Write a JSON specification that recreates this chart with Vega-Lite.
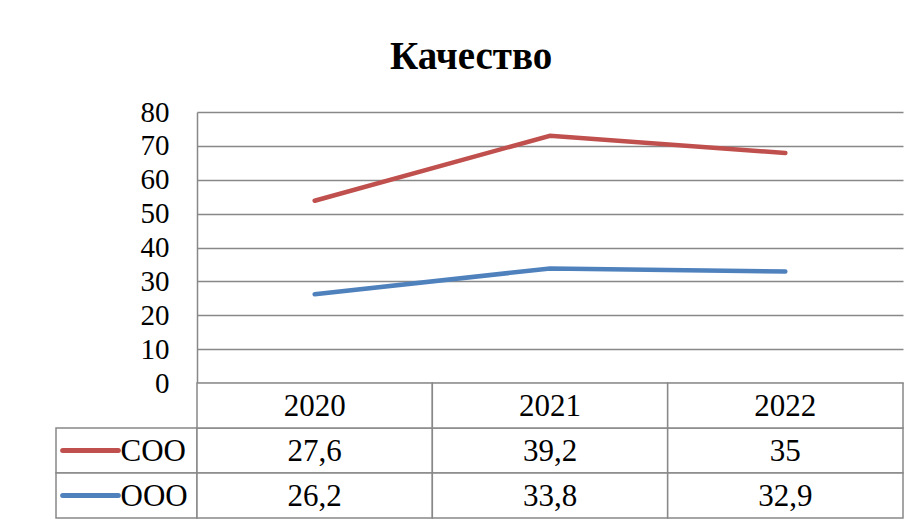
{
  "$schema": "https://vega.github.io/schema/vega-lite/v6.json",
  "padding": {"left": 52, "top": 38, "right": 10, "bottom": 5},
  "background": "white",
  "title": {"text": "Качество", "fontSize": 39, "fontWeight": "bold", "color": "black", "anchor": "middle", "offset": 21, "dx": -7},
  "data": {"values": [
    {"year": "2020", "series": "СОО", "value": 27.6},
    {"year": "2021", "series": "СОО", "value": 39.2},
    {"year": "2022", "series": "СОО", "value": 35},
    {"year": "2020", "series": "ООО", "value": 26.2},
    {"year": "2021", "series": "ООО", "value": 33.8},
    {"year": "2022", "series": "ООО", "value": 32.9}
  ]},
  "columns": 2,
  "spacing": 0,
  "bounds": "flush",
  "align": "each",
  "concat": [
    {
      "width": 141, "height": 271,
      "mark": {"type": "text", "opacity": 0},
      "encoding": {"text": {"value": ""}}
    },
    {
      "width": 706, "height": 271,
      "transform": [
        {"stack": "value", "groupby": ["year"], "sort": [{"field": "series", "order": "ascending"}], "as": ["v0", "v1"]}
      ],
      "mark": {"type": "line", "strokeWidth": 4.5, "strokeCap": "round"},
      "encoding": {
        "x": {"field": "year", "type": "nominal", "scale": {"domain": ["2020", "2021", "2022"], "paddingInner": 0, "paddingOuter": 0}, "axis": null},
        "y": {"field": "v1", "type": "quantitative", "scale": {"domain": [0, 80], "nice": false},
          "axis": {"values": [0, 10, 20, 30, 40, 50, 60, 70, 80], "title": null, "grid": true, "gridColor": "#888888", "gridWidth": 1.5, "domain": true, "domainColor": "#888888", "domainWidth": 1.5, "ticks": false, "labelPadding": 28, "labelFontSize": 29, "labelColor": "black"}},
        "color": {"field": "series", "type": "nominal", "scale": {"domain": ["СОО", "ООО"], "range": ["#C0504D", "#4F81BD"]}, "legend": null}
      }
    },
    {
      "width": 141, "height": 135,
      "transform": [{"filter": "datum.year == '2020'"}],
      "encoding": {
        "y": {"field": "series", "type": "nominal", "scale": {"domain": ["hdr", "СОО", "ООО"], "paddingInner": 0, "paddingOuter": 0}, "axis": null}
      },
      "layer": [
        {"mark": {"type": "rect", "fill": "white", "stroke": "#888888", "strokeWidth": 1.5}},
        {"mark": {"type": "point", "shape": "stroke", "size": 3100, "strokeWidth": 5, "strokeCap": "round", "filled": false, "opacity": 1, "xOffset": -36},
          "encoding": {"color": {"field": "series", "type": "nominal", "scale": {"domain": ["СОО", "ООО"], "range": ["#C0504D", "#4F81BD"]}, "legend": null}}},
        {"mark": {"type": "text", "align": "left", "baseline": "middle", "fontSize": 31, "color": "black", "dx": -6, "dy": 1},
          "encoding": {"text": {"field": "series"}}}
      ]
    },
    {
      "width": 706, "height": 135,
      "encoding": {
        "x": {"field": "year", "type": "nominal", "scale": {"domain": ["2020", "2021", "2022"], "paddingInner": 0, "paddingOuter": 0}, "axis": null}
      },
      "layer": [
        {"mark": {"type": "rect", "fill": "white", "stroke": "#888888", "strokeWidth": 1.5},
          "encoding": {"y": {"field": "series", "type": "nominal", "scale": {"domain": ["hdr", "СОО", "ООО"], "paddingInner": 0, "paddingOuter": 0}, "axis": null}}},
        {"transform": [{"filter": "datum.series == 'СОО'"}],
          "mark": {"type": "rect", "fill": "white", "stroke": "#888888", "strokeWidth": 1.5},
          "encoding": {"y": {"datum": "hdr", "type": "nominal"}}},
        {"mark": {"type": "text", "baseline": "middle", "fontSize": 31, "color": "black", "dy": 1},
          "encoding": {"y": {"field": "series", "type": "nominal"}, "text": {"field": "value", "type": "quantitative", "format": "~g"}}},
        {"transform": [{"filter": "datum.series == 'СОО'"}],
          "mark": {"type": "text", "baseline": "middle", "fontSize": 31, "color": "black", "dy": 1},
          "encoding": {"y": {"datum": "hdr", "type": "nominal"}, "text": {"field": "year"}}}
      ]
    }
  ],
  "config": {
    "font": "Liberation Serif",
    "view": {"stroke": null},
    "locale": {"number": {"decimal": ",", "thousands": " ", "grouping": [3], "currency": ["", ""]}}
  }
}
